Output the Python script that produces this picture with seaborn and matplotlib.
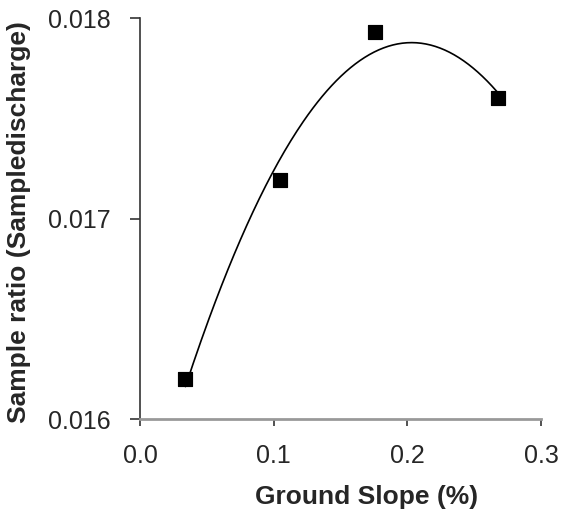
import numpy as np
import pandas as pd
import matplotlib
matplotlib.use("Agg")
import matplotlib.pyplot as plt
import seaborn as sns

slope = [0.034, 0.105, 0.176, 0.268]
ratio = [0.01620, 0.01719, 0.01793, 0.01760]
xticks = [0.0, 0.1, 0.2, 0.3]
yticks = [0.016, 0.017, 0.018]

sns.set_style("white")
plt.rcParams['font.family'] = ['Liberation Sans', 'DejaVu Sans']

df = pd.DataFrame({"slope": slope, "ratio": ratio})

fig = plt.figure(figsize=(5.61, 5.12), dpi=100)
ax = fig.add_axes([0.2496, 0.1816, 0.7147, 0.7832])

# quadratic trend line
coef = np.polyfit(slope, ratio, 2)
xs = np.linspace(min(slope), max(slope), 200)
trend = pd.DataFrame({"slope": xs, "ratio": np.polyval(coef, xs)})
sns.lineplot(data=trend, x="slope", y="ratio", ax=ax, color="black", lw=1.2)
sns.scatterplot(data=df, x="slope", y="ratio", ax=ax, marker="s", s=110,
                color="black", edgecolor="black", zorder=5)

ax.set_xlim(0, 0.3)
ax.set_ylim(0.016, 0.018)
ax.set_xticks(xticks)
ax.set_xticklabels([f"{v:.1f}" for v in xticks])
ax.set_yticks(yticks)
ax.set_yticklabels([f"{v:.3f}" for v in yticks])
ax.tick_params(axis="both", direction="out", width=1.2, labelsize=18,
               color="#333333", bottom=True, left=True)
ax.tick_params(axis="y", length=7, pad=14)
ax.tick_params(axis="x", length=5, pad=13)

for s in ["top", "right"]:
    ax.spines[s].set_visible(False)
ax.spines["left"].set_color("#333333")
ax.spines["left"].set_linewidth(1.2)
ax.spines["bottom"].set_color("#999999")
ax.spines["bottom"].set_linewidth(2.0)

ax.set_xlabel("Ground Slope (%)", fontsize=19, fontweight="bold", labelpad=12)
ax.set_ylabel("Sample ratio (Sampledischarge)", fontsize=19, fontweight="bold", labelpad=12)
ax.xaxis.label.set_x(0.566)
ax.yaxis.label.set_y(0.49)

fig.savefig("out.png", dpi=100)
